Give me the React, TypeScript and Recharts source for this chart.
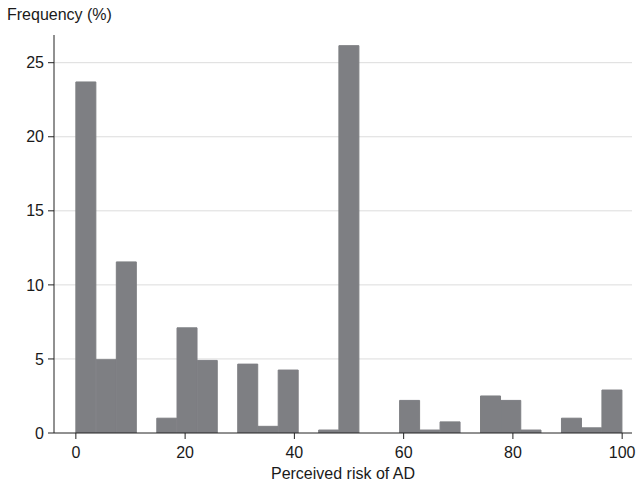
import React from "react";
import {
  BarChart,
  Bar,
  XAxis,
  YAxis,
  CartesianGrid,
} from "recharts";

// Histogram of perceived risk, 27 equal bins from 0 to 100
const binCount = 27;
const frequency = [
  23.7, 4.95, 11.55, 0, 1.0, 7.1, 4.9, 0, 4.65, 0.45, 4.25, 0, 0.2, 26.15,
  0, 0, 2.2, 0.2, 0.75, 0, 2.5, 2.2, 0.2, 0, 1.0, 0.35, 2.9,
];
const xTicks = [0, 20, 40, 60, 80, 100];
const yTicks = [0, 5, 10, 15, 20, 25];

const binWidth = 100 / binCount;
const data = frequency.map((f, i) => ({ mid: (i + 0.5) * binWidth, freq: f }));

const font = "'Liberation Sans', Arial, sans-serif";

export default function App() {
  return (
    <div
      style={{
        position: "absolute",
        left: 0,
        top: 0,
        width: 641,
        height: 487,
        background: "#fff",
        fontFamily: font,
      }}
    >
      <div
        style={{
          position: "absolute",
          left: 7,
          top: 6,
          fontSize: 16,
          lineHeight: "18px",
          color: "#1a1a1a",
        }}
      >
        Frequency (%)
      </div>
      <BarChart
        width={641}
        height={487}
        data={data}
        margin={{ top: 35, right: 9, left: 0, bottom: 0 }}
        barCategoryGap={0}
        barGap={0}
      >
        <CartesianGrid
          vertical={false}
          stroke="#dcdcdc"
          horizontalValues={[5, 10, 15, 20, 25]}
        />
        <XAxis
          dataKey="mid"
          type="number"
          domain={[-4, 101.8]}
          ticks={xTicks}
          allowDataOverflow
          height={54}
          tickSize={6}
          tickMargin={8}
          stroke="#222"
          tick={{ fill: "#1a1a1a", fontSize: 16, fontFamily: font }}
          label={{
            value: "Perceived risk of AD",
            position: "insideBottom",
            offset: 8,
            fill: "#1a1a1a",
            fontSize: 16,
            fontFamily: font,
          }}
        />
        <YAxis
          type="number"
          domain={[0, 26.87]}
          ticks={yTicks}
          allowDataOverflow
          width={54}
          tickSize={6}
          tickMargin={4}
          stroke="#222"
          tick={{ fill: "#1a1a1a", fontSize: 16, fontFamily: font }}
        />
        {/* stroke in fill colour closes the hairline seams between bins */}
        <Bar
          dataKey="freq"
          fill="#7e7f83"
          stroke="#7e7f83"
          strokeWidth={1}
          isAnimationActive={false}
        />
      </BarChart>
    </div>
  );
}
